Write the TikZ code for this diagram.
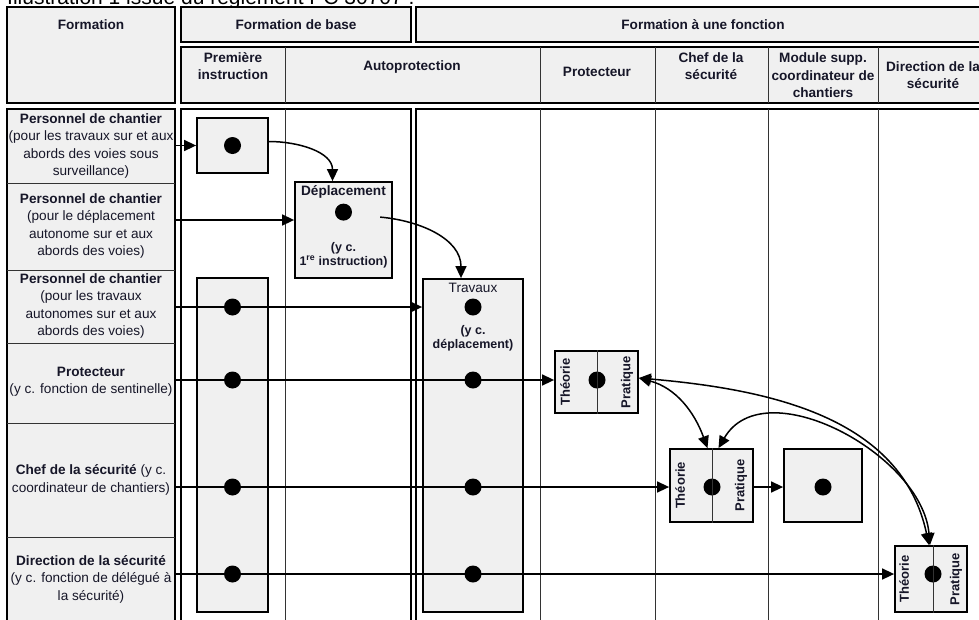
\documentclass[tikz,border=0pt]{standalone}
\usepackage{fontspec}
\setmainfont{Liberation Sans}
\usetikzlibrary{arrows.meta,positioning}
\definecolor{cellgray}{RGB}{240,240,240}
\definecolor{ink}{RGB}{22,22,40}
\tikzset{
  frame/.style={line width=1.8pt},
  rule/.style={line width=0.9pt, draw=black!80},
  lab/.style={align=center, inner sep=0pt, text=ink, font=\fontsize{13.6}{17.5}\selectfont},
  head/.style={lab, font=\fontsize{13.6}{17.5}\selectfont\bfseries},
  stage/.style={draw, line width=1.8pt, fill=cellgray, inner sep=0pt},
  inbold/.style={lab, font=\fontsize{12.5}{14}\selectfont\bfseries},
  side/.style={lab, rotate=90, font=\fontsize{13}{15}\selectfont\bfseries},
  dot/.style={circle, fill=black, minimum size=17pt, inner sep=0pt},
  link/.style={line width=1.5pt, -{Triangle[length=12pt,width=11pt]}},
  duo/.style={line width=1.5pt, {Triangle[length=12pt,width=11pt]}-{Triangle[length=12pt,width=11pt]}},
}
\begin{document}
\begin{tikzpicture}[x=1pt,y=-1pt]
	\useasboundingbox (0,0) rectangle (979,619);
	\clip (0,0) rectangle (979,619);
	\node[anchor=base west, inner sep=0pt, font=\fontsize{21}{24}\selectfont] (caption) at (7,4.5) {Illustration 1 issue du règlement PC 30707 :};

	% en-tetes
	\draw[frame, fill=cellgray] (7,7) rectangle (175,103);
	\draw[frame, fill=cellgray] (181,7) rectangle (411,42);
	\draw[frame, fill=cellgray] (416,7) rectangle (990,42);
	\draw[frame, fill=cellgray] (181,47) rectangle (990,103);
	\foreach \x in {285,540,655,768,878} \draw[rule] (\x,47) -- (\x,103);
	\node[head] (hForm) at (91,25) {Formation};
	\node[head] (hBase) at (296,25) {Formation de base};
	\node[head] (hFonc) at (703,25) {Formation à une fonction};
	\node[head] (hPrem) at (233,66) {Première\\instruction};
	\node[head] (hAuto) at (412,67) {Autoprotection};
	\node[head] (hProt) at (597,72) {Protecteur};
	\node[head] (hChef) at (711,66) {Chef de la\\sécurité};
	\node[head] (hMod) at (823,75.5) {Module supp.\\coordinateur de\\chantiers};
	\node[head] (hDir) at (933,75) {Direction de la\\sécurité};

	% lignes du tableau
	\draw[frame, fill=cellgray] (7,109) rectangle (175,640);
	\foreach \y in {183,270,343,423,537} \draw[rule] (7,\y) -- (175,\y);
	\draw[frame] (181,109) rectangle (411,640);
	\draw[rule] (285,109) -- (285,640);
	\draw[frame] (416,109) rectangle (990,640);
	\foreach \x in {540,655,768,878} \draw[rule] (\x,109) -- (\x,640);

	\node[lab] (l1) at (91,146) {\textbf{Personnel de chantier}\\(pour les travaux sur et aux\\abords des voies sous\\surveillance)};
	\node[lab] (l2) at (91,226) {\textbf{Personnel de chantier}\\(pour le déplacement\\autonome sur et aux\\abords des voies)};
	\node[lab] (l3) at (91,306) {\textbf{Personnel de chantier}\\(pour les travaux\\autonomes sur et aux\\abords des voies)};
	\node[lab] (l4) at (91,381.5) {\textbf{Protecteur}\\(y c. fonction de sentinelle)};
	\node[lab] (l5) at (91,480) {\textbf{Chef de la sécurité} (y c.\\coordinateur de chantiers)};
	\node[lab] (l6) at (91,579) {\textbf{Direction de la sécurité}\\(y c. fonction de délégué à\\la sécurité)};

	\coordinate (r1) at (175,145.5);
	\coordinate (r2) at (175,220);
	\coordinate (r3) at (175,307);
	\coordinate (r4) at (175,380);
	\coordinate (r5) at (175,487);
	\coordinate (r6) at (175,574);

	% modules
	\node[stage, minimum width=71pt, minimum height=55pt] (pi1) at (232.5,145.5) {};
	\node[stage, minimum width=97pt, minimum height=96pt] (dep) at (343.5,230) {};
	\node[stage, minimum width=71pt, minimum height=334pt] (pitall) at (232.5,445) {};
	\node[stage, minimum width=100pt, minimum height=333pt] (trav) at (473,445.5) {};
	\node[stage, minimum width=83pt, minimum height=62pt] (prot) at (596.5,382) {};
	\node[stage, minimum width=83pt, minimum height=73pt] (chef) at (711.5,485.5) {};
	\node[stage, minimum width=78pt, minimum height=73pt] (mod) at (823,485.5) {};
	\node[stage, minimum width=72pt, minimum height=66pt] (dir) at (931,579) {};

	\node[dot] (d1) at (pi1) {};
	\node[dot] (d2) at ([yshift=-31pt]dep.north) {};
	\foreach \r in {3,4,5,6} {
		\node[dot] (p\r) at (pitall |- r\r) {};
		\node[dot] (t\r) at (trav |- r\r) {};
	}
	\node[dot] (prot4) at (597,380) {};
	\node[dot] (chef5) at (712,487) {};
	\node[dot] (mod5) at (mod |- r5) {};
	\node[dot] (dir6) at (933,574) {};
	\draw[rule] (prot4 |- prot.north) -- (prot4 |- prot.south);
	\draw[rule] (chef5 |- chef.north) -- (chef5 |- chef.south);
	\draw[rule] (dir6 |- dir.north) -- (dir6 |- dir.south);

	\node[head] (depT) at ([yshift=-11pt]dep.north) {Déplacement};
	\node[inbold] (depC) at ([yshift=-74pt]dep.north) {(y c.\\1\textsuperscript{re} instruction)};
	\node[lab] (travT) at ([yshift=-10pt]trav.north) {Travaux};
	\node[inbold] (travC) at ([yshift=-60pt]trav.north) {(y c.\\déplacement)};
	\node[side] (protA) at ([xshift=11pt]prot.west) {Théorie};
	\node[side] (protB) at ([xshift=-12pt]prot.east) {Pratique};
	\node[side] (chefA) at ([xshift=11pt]chef.west) {Théorie};
	\node[side] (chefB) at ([xshift=-13pt]chef.east) {Pratique};
	\node[side] (dirA) at ([xshift=10pt]dir.west) {Théorie};
	\node[side] (dirB) at ([xshift=-12pt]dir.east) {Pratique};

	% liaisons
	\draw[link] (r1) -- (pi1.west);
	\draw[link] (r2) -- (dep.west |- r2);
	\draw[link] (r3) -- (trav.west |- r3);
	\draw[link] (r4) -- (prot.west |- r4);
	\draw[link] (r5) -- (chef.west |- r5);
	\draw[link] (chef.east |- r5) -- (mod.west |- r5);
	\draw[link] (r6) -- (dir.west |- r6);
	\draw[link] ([yshift=4pt]pi1.east) to[out=0,in=90] ([xshift=-11pt]dep.north);
	\draw[link] ([xshift=28pt,yshift=-5pt]d2.east) to[out=-5,in=90] ([xshift=-12pt]trav.north);
	\draw[duo] ([yshift=4pt]prot.east) to[out=-15,in=110] ([xshift=-4pt]chef.north);
	\draw[duo] ([yshift=4pt]prot.east) to[out=-5,in=102] ([xshift=-2pt]dir.north);
	\draw[duo] ([xshift=7pt]chef.north) to[out=60,in=95] ([xshift=-1pt]dir.north);
\end{tikzpicture}
\end{document}
